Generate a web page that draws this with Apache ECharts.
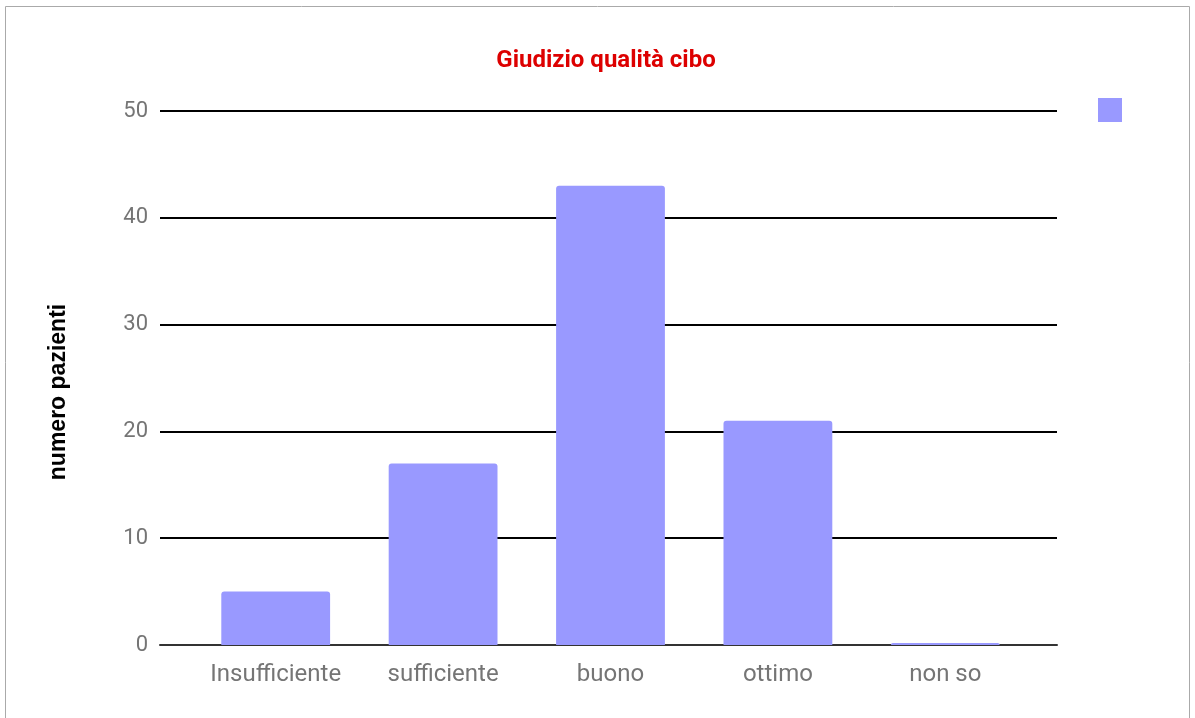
<!DOCTYPE html>
<html>
<head>
<meta charset="utf-8">
<script src="https://cdn.jsdelivr.net/npm/echarts@6/dist/echarts.min.js"></script>
<style>
  html, body { margin: 0; padding: 0; background: #fff; }
  #chart { width: 1195px; height: 718px; }
</style>
</head>
<body>
<div id="chart"></div>
<script>
// dati del grafico
const categories = ['Insufficiente', 'sufficiente', 'buono', 'ottimo', 'non so']
const pazienti = [5, 17, 43, 21, 0]
const yTicks = [0, 10, 20, 30, 40, 50]

const yMin = yTicks[0]
const yMax = yTicks[yTicks.length - 1]
const labelColor = '#757575'

const chart = echarts.init(document.getElementById('chart'))

chart.setOption({
  animation: false,
  title: {
    text: 'Giudizio qualità cibo',
    left: 601,
    textAlign: 'center',
    top: 44,
    textStyle: {
      color: '#dd0000',
      fontFamily: 'Roboto',
      fontWeight: 'bold',
      fontSize: 24
    }
  },
  legend: {
    left: 1093,
    top: 93,
    itemWidth: 24,
    itemHeight: 24,
    icon: 'rect',
    formatter: () => '',
    data: ['pazienti']
  },
  // griglia 0: linee orizzontali e asse; griglia 1: barre (più stretta, come nell'originale)
  grid: [
    { left: 160, right: 1195 - 1057, top: 111, bottom: 718 - 645 },
    { left: 192, right: 1195 - 1029, top: 111, bottom: 718 - 645 }
  ],
  xAxis: [{
    gridIndex: 0,
    type: 'value',
    min: 0,
    max: 1,
    axisLabel: { show: false },
    axisTick: { show: false },
    splitLine: { show: false },
    axisLine: { show: true, onZero: false, lineStyle: { color: '#333', width: 2 } }
  }, {
    gridIndex: 1,
    type: 'category',
    data: categories,
    axisTick: { show: false },
    axisLine: { show: false },
    axisLabel: {
      interval: 0,
      color: labelColor,
      fontFamily: 'Roboto',
      fontSize: 24,
      margin: 18
    }
  }],
  yAxis: [{
    gridIndex: 0,
    type: 'value',
    min: yMin,
    max: yMax,
    interval: 10,
    name: 'numero pazienti',
    nameLocation: 'middle',
    nameGap: 90,
    nameTextStyle: {
      color: '#000',
      fontFamily: 'Liberation Sans',
      fontWeight: 'bold',
      fontSize: 23,
      padding: [0, 28, 0, 0]
    },
    axisLine: { show: false },
    axisTick: { show: false },
    axisLabel: {
      color: labelColor,
      fontFamily: 'Roboto',
      fontSize: 22,
      margin: 12
    },
    splitLine: { lineStyle: { color: '#000', width: 2 } }
  }, {
    gridIndex: 1,
    type: 'value',
    min: yMin,
    max: yMax,
    interval: 10,
    show: false,
    splitLine: { show: false }
  }],
  graphic: [{
    type: 'rect',
    shape: { x: 5.5, y: 6.5, width: 1184, height: 730 },
    style: { fill: 'none', stroke: '#aaa', lineWidth: 1 },
    silent: true
  }],
  series: [{
    name: 'pazienti',
    type: 'bar',
    xAxisIndex: 1,
    yAxisIndex: 1,
    data: pazienti,
    barWidth: '65%',
    barMinHeight: 2,
    itemStyle: {
      color: '#9999ff',
      borderRadius: [3, 3, 0, 0]
    }
  }]
})
</script>
</body>
</html>
